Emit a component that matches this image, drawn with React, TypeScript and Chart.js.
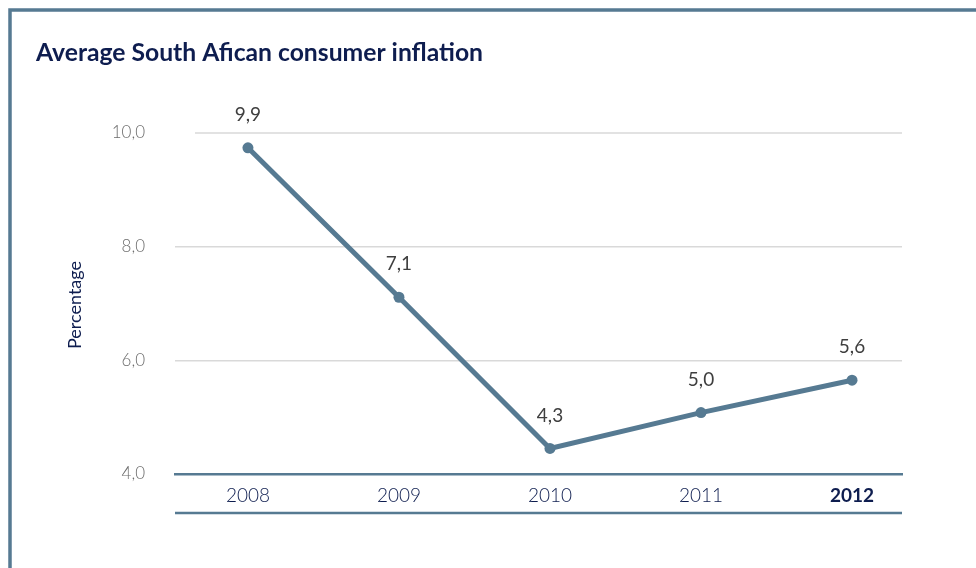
import React, { useEffect, useRef } from "react";
import { Chart, registerables } from "chart.js";

Chart.register(...registerables);

const TITLE = "Average South Afican consumer inflation";
const Y_TITLE = "Percentage";
const years = [2008, 2009, 2010, 2011, 2012];
const inflation = [9.74, 7.11, 4.45, 5.08, 5.65];
const valueLabels = ["9,9", "7,1", "4,3", "5,0", "5,6"];
const yTicks = [4, 6, 8, 10];

const NAVY = "#0e1d4f";
const SLATE = "#567a92";
const FONT = "Lato, 'Open Sans', sans-serif";

const decorPlugin = {
  id: "decor",
  beforeDraw(chart: any) {
    const { ctx, chartArea, scales } = chart;
    ctx.save();
    ctx.fillStyle = "#ffffff";
    ctx.fillRect(0, 0, chart.width, chart.height);
    // frame
    ctx.strokeStyle = SLATE;
    ctx.lineWidth = 3.5;
    ctx.strokeRect(10, 10, chart.width + 40, chart.height + 40);
    // title
    ctx.fillStyle = NAVY;
    ctx.font = `bold 24.7px ${FONT}`;
    ctx.textAlign = "left";
    ctx.textBaseline = "alphabetic";
    ctx.fillText(TITLE, 36, 61);
    // y title
    ctx.save();
    ctx.translate(75, 305);
    ctx.rotate(-Math.PI / 2);
    ctx.font = `18px ${FONT}`;
    ctx.textAlign = "center";
    ctx.textBaseline = "middle";
    ctx.fillStyle = NAVY;
    ctx.fillText(Y_TITLE, 0, 0);
    ctx.restore();
    // top gridline (starts a bit to the right)
    const yTop = scales.y.getPixelForValue(10);
    ctx.strokeStyle = "#d9d9d9";
    ctx.lineWidth = 1.5;
    ctx.beginPath();
    ctx.moveTo(chartArea.left + 20, yTop);
    ctx.lineTo(chartArea.right, yTop);
    ctx.stroke();
    ctx.restore();
  },
  afterDraw(chart: any) {
    const { ctx, chartArea } = chart;
    ctx.save();
    // bottom rule under the year labels
    ctx.strokeStyle = SLATE;
    ctx.lineWidth = 2.5;
    ctx.beginPath();
    ctx.moveTo(chartArea.left, 513);
    ctx.lineTo(chartArea.right, 513);
    ctx.stroke();
    // value labels
    const meta = chart.getDatasetMeta(0);
    ctx.fillStyle = "#3f3f3f";
    ctx.font = `19px ${FONT}`;
    ctx.textAlign = "center";
    ctx.textBaseline = "middle";
    meta.data.forEach((pt: any, i: number) => {
      ctx.fillText(valueLabels[i], pt.x, pt.y - 33);
    });
    ctx.restore();
  },
};

export default function App() {
  const ref = useRef<HTMLCanvasElement | null>(null);
  useEffect(() => {
    if (!ref.current) return;
    const chart = new Chart(ref.current, {
      type: "line",
      data: {
        datasets: [
          {
            data: years.map((y, i) => ({ x: y, y: inflation[i] })),
            borderColor: SLATE,
            backgroundColor: SLATE,
            borderWidth: 5,
            pointRadius: 5.5,
            pointBackgroundColor: SLATE,
            pointBorderWidth: 0,
            tension: 0,
            clip: false as any,
          },
        ],
      },
      options: {
        responsive: false,
        animation: false,
        layout: { padding: { left: 0, right: 74, top: 133, bottom: 0 } },
        plugins: {
          legend: { display: false },
          title: { display: false },
          tooltip: { enabled: false },
        },
        scales: {
          x: {
            type: "linear",
            position: "bottom",
            min: 2007.517,
            max: 2012.331,
            afterBuildTicks: (scale: any) => {
              scale.ticks = years.map((v) => ({ value: v }));
            },
            afterFit: (scale: any) => {
              scale.height = 94;
            },
            grid: { display: false, drawTicks: false },
            border: { display: true, color: SLATE, width: 2.5 },
            ticks: {
              padding: 10,
              maxRotation: 0,
              autoSkip: false,
              callback: (v: any) => String(v),
              color: NAVY,
              font: (ctx: any) => ({
                family: FONT,
                size: 19,
                weight: ctx.tick && ctx.tick.value === 2012 ? "bold" : 300,
              }),
            },
          },
          y: {
            type: "linear",
            min: 4,
            max: 10,
            afterBuildTicks: (scale: any) => {
              scale.ticks = yTicks.map((v) => ({ value: v }));
            },
            afterFit: (scale: any) => {
              scale.width = 175;
            },
            grid: {
              drawTicks: false,
              lineWidth: 1.5,
              color: (ctx: any) =>
                ctx.tick && (ctx.tick.value === 10 || ctx.tick.value === 4)
                  ? "rgba(0,0,0,0)"
                  : "#d9d9d9",
            },
            border: { display: false },
            ticks: {
              padding: 30,
              color: "#6c6c6c",
              font: { family: FONT, size: 17, weight: 300 as any },
              callback: (v: any) => Number(v).toFixed(1).replace(".", ","),
            },
          },
        },
      },
      plugins: [decorPlugin],
    });
    return () => chart.destroy();
  }, []);
  return (
    <canvas
      ref={ref}
      width={976}
      height={568}
      style={{ position: "fixed", left: 0, top: 0, width: 976, height: 568 }}
    />
  );
}
